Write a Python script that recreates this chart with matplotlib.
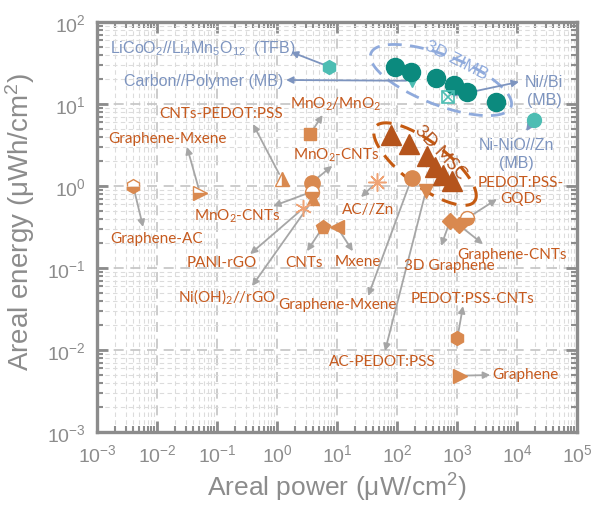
import numpy as np
import matplotlib
matplotlib.use('Agg')
import matplotlib.pyplot as plt
from matplotlib.ticker import LogLocator, FuncFormatter, NullFormatter

plt.rcParams['font.family'] = ['Liberation Sans', 'DejaVu Sans']
plt.rcParams['mathtext.default'] = 'regular'

# 3D ZIMB (this work) and 3D MSC points
zimb_power = [93, 169, 447, 891, 1450, 4415]
zimb_energy = [28, 24.3, 20.6, 17, 14.1, 10.7]
msc_power = [79, 160, 320, 430, 591, 815]
msc_energy = [4.19, 3.25, 2.34, 1.69, 1.36, 1.16]

# batteries from literature
bat_names = ['LiCoO$_2$//Li$_4$Mn$_5$O$_{12}$  (TFB)', 'Carbon//Polymer (MB)', 'Ni//Bi\n(MB)', 'Ni-NiO//Zn\n(MB)']
bat_power = [7.4, 176, 708, 19200]
bat_energy = [28.5, 19.2, 12.2, 6.44]

# micro-supercapacitors from literature
ref_names = ['Graphene-AC', 'Graphene-Mxene', 'CNTs-PEDOT:PSS', 'MnO$_2$/MnO$_2$', 'MnO$_2$-CNTs',
             'MnO$_2$-CNTs', 'Ni(OH)$_2$//rGO', 'PANI-rGO', 'AC//Zn', 'CNTs', 'Mxene', 'Graphene-Mxene',
             'AC-PEDOT:PSS', '3D Graphene', 'Graphene-CNTs', 'PEDOT:PSS-\nGQDs', 'PEDOT:PSS-CNTs', 'Graphene']
ref_power = [0.004, 0.052, 1.2, 3.55, 3.79, 3.79, 4.03, 2.74, 46.4, 5.84, 10, 176,
             304, 765, 1080, 1468, 1012, 1122]
ref_energy = [1.01, 0.82, 1.22, 4.3, 1.10, 0.85, 0.69, 0.535, 1.12, 0.316, 0.316, 1.25,
              0.877, 0.374, 0.334, 0.404, 0.0139, 0.00486]

grey = '#8C8C8C'
teal = '#0B8A7E'
teal_lt = '#4DBDB3'
slate = '#7D94BF'
orange_txt = '#C65A1E'
orange = '#D9894F'
msc_col = '#B5541C'
arrow_grey = '#A6A6A6'

fig = plt.figure(figsize=(5.93, 5.06), dpi=100)
ax = fig.add_axes([97/593, 73/506, 480/593, 410/506])
ax.set_xscale('log')
ax.set_yscale('log')
ax.set_xlim(1e-3, 1e5)
ax.set_ylim(1e-3, 1e2)

# grid + ticks
ax.set_axisbelow(True)
for axis in (ax.xaxis, ax.yaxis):
    axis.set_major_locator(LogLocator(base=10, numticks=20))
    axis.set_minor_locator(LogLocator(base=10, subs=np.arange(2, 10), numticks=20))
    axis.set_minor_formatter(NullFormatter())
    axis.set_major_formatter(FuncFormatter(lambda v, p: r'$10^{%d}$' % round(np.log10(v))))
ax.grid(which='major', color='#C4C4C4', lw=1.2, ls=(0, (6, 4)))
ax.grid(which='minor', color='#DCDCDC', lw=0.8, ls=(0, (4, 3)))
ax.tick_params(which='both', direction='in', top=True, right=True, colors=grey,
               labelsize=14, labelcolor=grey)
ax.tick_params(which='major', length=8, width=2, pad=8)
ax.tick_params(which='minor', length=4.5, width=1.5)
for s in ax.spines.values():
    s.set_color(grey)
    s.set_linewidth(2.4)

ax.set_xlabel('Areal power (\u03bcW/cm$^2$)', fontsize=19, color=grey, labelpad=4)
ax.set_ylabel('Areal energy (\u03bcWh/cm$^2$)', fontsize=20, color=grey)
ax.yaxis.set_label_coords(-0.125, 0.515)

# ellipses, built in log space (px per decade from the axes size)
px_x = 480 / 8
px_y = 410 / 5

def ellipse(cx, cy, a, b, ang):
    t = np.linspace(0, 2*np.pi, 300)
    r = np.radians(ang)
    ex, ey = a*np.cos(t), b*np.sin(t)
    dx = ex*np.cos(r) - ey*np.sin(r)
    dy = ex*np.sin(r) + ey*np.cos(r)
    return cx * 10**(dx/px_x), cy * 10**(dy/px_y)

ex, ey = ellipse(541, 19.6, 75, 25, -21)
ax.plot(ex, ey, color='#8FAADC', lw=2, ls=(0, (5, 3)), zorder=3)
ex, ey = ellipse(293, 1.85, 62, 22, -37)
ax.plot(ex, ey, color='#C55A11', lw=2.2, ls=(0, (5, 3)), zorder=3)

ax.text(0.748, 0.908, '3D ZIMB', transform=ax.transAxes, rotation=-27, fontsize=12.5,
        color='#8FAADC', ha='center', va='center')
ax.text(0.715, 0.685, '3D MSC', transform=ax.transAxes, rotation=-47, fontsize=13,
        color=msc_col, ha='center', va='center', family=['Lato', 'DejaVu Sans'])

# main series
ax.plot(zimb_power, zimb_energy, 'o', ms=13, color=teal, zorder=5)
ax.plot(msc_power, msc_energy, '^', ms=15, color=msc_col, zorder=5)

# battery markers
ax.plot(bat_power[0], bat_energy[0], 'h', ms=10, color=teal_lt, zorder=4)
ax.plot(bat_power[1], bat_energy[1], 'v', ms=8, color=teal_lt, zorder=4)
ax.plot(bat_power[2], bat_energy[2], 's', ms=9, mfc='none', mec=teal_lt, mew=1.2, zorder=6)
ax.plot(bat_power[2], bat_energy[2], 'x', ms=8, mec=teal_lt, mew=1.2, zorder=6)
ax.plot(bat_power[3], bat_energy[3], 'o', ms=10, color=teal_lt, zorder=4)

bat_layout = [  # text x, text y, ha, arrow head x, arrow head y (axes fraction)
    (0.027, 0.939, 'left', 0.404, 0.927),
    (0.3875, 0.8585, 'right', 0.394, 0.8585),
    (0.931, 0.832, 'center', 0.879, 0.854),
    (0.873, 0.680, 'center', 0.894, 0.734),
]
for name, x, y, (tx, ty, ha, hx, hy) in zip(bat_names, bat_power, bat_energy, bat_layout):
    ax.text(tx, ty, name, transform=ax.transAxes, ha=ha, va='center', fontsize=11.5,
            color=slate, linespacing=1.25)
    ax.annotate('', xy=(hx, hy), xycoords='axes fraction', xytext=(x, y), textcoords='data',
                arrowprops=dict(arrowstyle='-|>', color=slate, lw=1.3, shrinkA=4, shrinkB=0,
                                mutation_scale=10), zorder=3)

# literature MSC markers
ref_style = [  # marker, fillstyle, size, color
    ('h', 'bottom', 10, orange), ('>', 'bottom', 10, orange), ('^', 'right', 10, orange),
    ('s', 'full', 8, orange), ('o', 'full', 11, orange), ('o', 'bottom', 10, orange),
    ('^', 'full', 9, orange), ((6, 2, 0), 'full', 12, '#EFA375'), ((8, 2, 0), 'full', 13, '#EFA375'),
    ('p', 'full', 10, orange), ('<', 'full', 10, orange), ('o', 'full', 11, orange),
    ('v', 'full', 10, orange), ('D', 'full', 8, orange), ('D', 'full', 8, orange),
    ('o', 'bottom', 10, orange), ('h', 'full', 10, orange), ('>', 'full', 10, orange),
]
ref_layout = [  # text x, text y, ha, arrow head x, arrow head y (axes fraction)
    (0.125, 0.473, 'center', 0.096, 0.500),
    (0.146, 0.717, 'center', 0.1875, 0.695),
    (0.258, 0.778, 'center', 0.325, 0.751),
    (0.498, 0.802, 'center', 0.470, 0.773),
    (0.498, 0.678, 'center', 0.490, 0.649),
    (0.292, 0.529, 'center', 0.367, 0.551),
    (0.271, 0.332, 'center', 0.323, 0.356),
    (0.260, 0.415, 'center', 0.319, 0.434),
    (0.565, 0.544, 'center', 0.550, 0.573),
    (0.431, 0.415, 'center', 0.4375, 0.441),
    (0.544, 0.417, 'center', 0.533, 0.441),
    (0.500, 0.312, 'center', 0.565, 0.332),
    (0.594, 0.173, 'center', 0.600, 0.1976),
    (0.735, 0.407, 'center', 0.717, 0.454),
    (0.865, 0.434, 'center', 0.804, 0.4585),
    (0.883, 0.590, 'center', 0.833, 0.568),
    (0.783, 0.327, 'center', 0.7625, 0.307),
    (0.823, 0.1415, 'left', 0.819, 0.139),
]
for name, x, y, (m, fs, ms, c), (tx, ty, ha, hx, hy) in zip(ref_names, ref_power, ref_energy,
                                                           ref_style, ref_layout):
    if isinstance(m, tuple):
        ax.plot(x, y, marker=m, ms=ms, color=c, mew=1.1, ls='none', zorder=4)
    else:
        ax.plot(x, y, marker=m, ms=ms, color=c, fillstyle=fs, mfc=c, mfcalt='white',
                mec=c, mew=1, ls='none', zorder=4)
    ax.text(tx, ty, name, transform=ax.transAxes, ha=ha, va='center', fontsize=11,
            color=orange_txt, family=['Lato', 'DejaVu Sans'], linespacing=1.2)
    ax.annotate('', xy=(hx, hy), xycoords='axes fraction', xytext=(x, y), textcoords='data',
                arrowprops=dict(arrowstyle='-|>', color=arrow_grey, lw=1.3, shrinkA=4, shrinkB=0,
                                mutation_scale=10), zorder=3)

fig.savefig('out.png', dpi=100)
